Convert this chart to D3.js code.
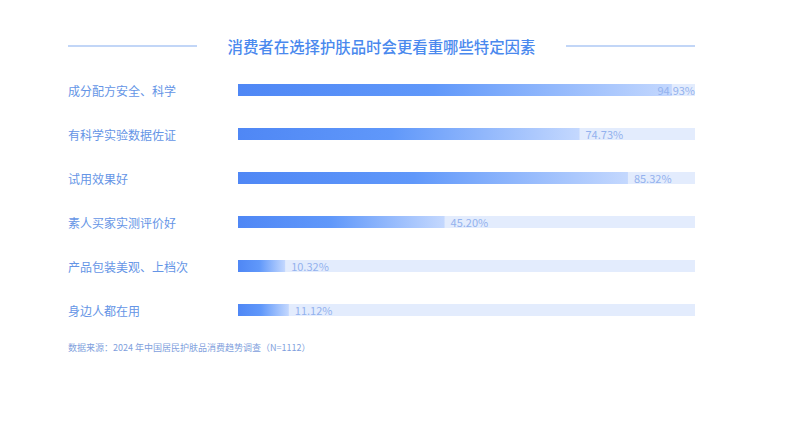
<!DOCTYPE html>
<html>
<head>
<meta charset="utf-8">
<script src="https://cdn.jsdelivr.net/npm/d3@7"></script>
<style>
  body { margin: 0; background: #fff; }
  text { font-family: "Noto Sans CJK SC", "Noto Sans", sans-serif; }
</style>
</head>
<body>
<div id="canvas"></div>
<script>
"use strict"

/* Data */
let categories = ["成分配方安全、科学", "有科学实验数据佐证", "试用效果好", "素人买家实测评价好", "产品包装美观、上档次", "身边人都在用"];
let values = [94.93, 74.73, 85.32, 45.20, 10.32, 11.12];
let titleText = "消费者在选择护肤品时会更看重哪些特定因素";
let sourceText = "数据来源：2024 年中国居民护肤品消费趋势调查（N=1112）";

/* Drawing config */
let svgWidth = 800;
let svgHeight = 428;
let left = 68;
let barLeft = 238;
let barRight = 695;
let barHeight = 12;

let svg = d3.select("#canvas")
    .append("svg")
    .attr("width", svgWidth)
    .attr("height", svgHeight);

/* Gradient for bars */
let defs = svg.append("defs");
let grad = defs.append("linearGradient")
    .attr("id", "barGrad")
    .attr("x1", "0%").attr("x2", "100%")
    .attr("y1", "0%").attr("y2", "0%");
grad.append("stop").attr("offset", "0%").attr("stop-color", "#4f87f5");
grad.append("stop").attr("offset", "45%").attr("stop-color", "#6098fa");
grad.append("stop").attr("offset", "100%").attr("stop-color", "#c4d8fe");

/* Title with side rules */
svg.append("text")
    .attr("x", 381.5)
    .attr("y", 46)
    .attr("text-anchor", "middle")
    .attr("dominant-baseline", "central")
    .attr("font-size", 15.4)
    .attr("font-weight", 500)
    .attr("fill", "#4a89ee")
    .text(titleText);

svg.append("line")
    .attr("x1", left).attr("x2", 197)
    .attr("y1", 46).attr("y2", 46)
    .attr("stroke", "#86aef0").attr("stroke-width", 1.2);

svg.append("line")
    .attr("x1", 566).attr("x2", barRight)
    .attr("y1", 46).attr("y2", 46)
    .attr("stroke", "#86aef0").attr("stroke-width", 1.2);

/* Scales */
let x = d3.scaleLinear()
    .domain([0, 100])
    .range([barLeft, barRight]);

let y = d3.scaleBand()
    .domain(categories)
    .range([68, 332])
    .paddingInner(0);

let rows = svg.selectAll("g.row")
    .data(categories)
    .join("g")
    .attr("class", "row")
    .attr("transform", function (d) {
        return "translate(0," + (y(d) + y.bandwidth() / 2) + ")";
    });

/* Category labels */
rows.append("text")
    .attr("x", left)
    .attr("y", 0)
    .attr("dominant-baseline", "central")
    .attr("font-size", 12)
    .attr("fill", "#6595e6")
    .text(function (d) { return d; });

/* Background tracks */
rows.append("rect")
    .attr("x", x(0))
    .attr("y", -barHeight / 2)
    .attr("width", x(100) - x(0))
    .attr("height", barHeight)
    .attr("fill", "#e3ecfd");

/* Value bars */
rows.append("rect")
    .attr("x", x(0))
    .attr("y", -barHeight / 2)
    .attr("width", function (d, i) { return x(values[i]) - x(0); })
    .attr("height", barHeight)
    .attr("fill", "url(#barGrad)");

/* Value labels: after the bar, or pushed back inside the track end */
rows.append("text")
    .attr("y", 0)
    .attr("dominant-baseline", "central")
    .attr("font-family", "Inter, sans-serif")
    .attr("font-size", 11)
    .attr("fill", "#93b2ee")
    .text(function (d, i) { return values[i].toFixed(2) + "%"; })
    .each(function (d, i) {
        let t = d3.select(this);
        let w = this.getComputedTextLength();
        let pos = x(values[i]) + 6;
        if (pos + w > barRight) {
            pos = barRight - w;
        }
        t.attr("x", pos);
    });

/* Source note */
svg.append("text")
    .attr("x", left)
    .attr("y", 347)
    .attr("dominant-baseline", "central")
    .attr("font-size", 9)
    .attr("fill", "#7f9fdd")
    .text(sourceText);
</script>
</body>
</html>
